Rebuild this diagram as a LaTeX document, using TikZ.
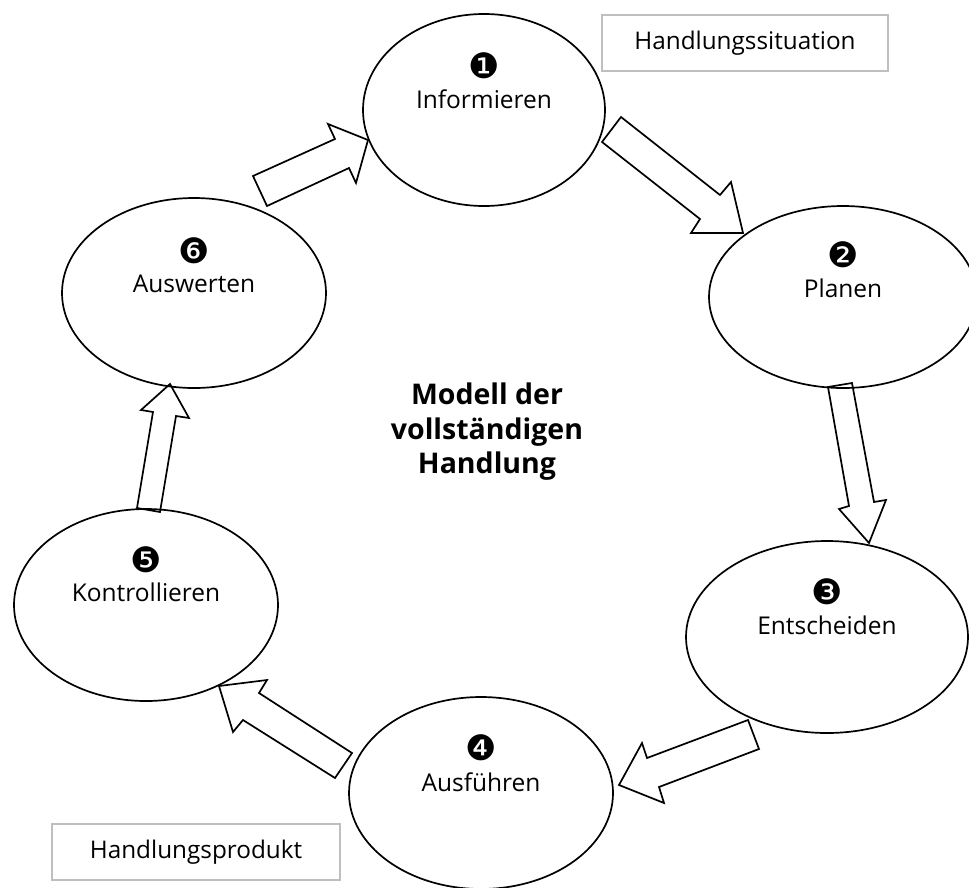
\documentclass[tikz,border=0pt]{standalone}
\usepackage{fontspec}
\setmainfont{Open Sans}
\newfontfamily\numfont{DejaVu Sans}
\usetikzlibrary{shapes.geometric}
\definecolor{boxgray}{HTML}{BFBFBF}
\tikzset{
  stage/.style={ellipse, draw=black, line width=1.7pt, inner sep=0pt, outer sep=0pt},
  blockarrow/.style={draw=black, fill=white, line width=1.7pt, line join=miter},
  numlabel/.style={font=\numfont\fontsize{35}{35}\selectfont, inner sep=0pt},
  steplabel/.style={font=\fontsize{24.5}{29}\selectfont, anchor=base, inner sep=0pt},
  infobox/.style={draw=boxgray, line width=1.3pt, inner sep=0pt, minimum height=56pt,
                  font=\fontsize{24.3}{29}\selectfont},
}
\begin{document}
\begin{tikzpicture}[x=1pt,y=-1pt]
\clip (0,0) rectangle (969,887);
\fill[white] (0,0) rectangle (969,887);

% block arrows
\draw[blockarrow] (621,117) -- (720,195) -- (731,182) -- (743,233) -- (691,233) -- (700,219) -- (602,142) -- cycle;
\draw[blockarrow] (828,387) -- (852,383) -- (874,502) -- (886,500) -- (869,543) -- (839,509) -- (849,506) -- cycle;
\draw[blockarrow] (748,720) -- (759,749) -- (659,787) -- (664,803) -- (619,785) -- (642,743) -- (647,758) -- cycle;
\draw[blockarrow] (352,753) -- (335,778) -- (243,720) -- (233,732) -- (219,686) -- (267,680) -- (259,693) -- cycle;
\draw[blockarrow] (137,508) -- (160,512) -- (176,416) -- (189,418) -- (170,384) -- (141,410) -- (153,412) -- cycle;
\draw[blockarrow] (253,176) -- (335,139) -- (328,124) -- (368,140) -- (356,183) -- (349,168) -- (267,206) -- cycle;

% stages
\node[stage, minimum width=242pt, minimum height=192pt] (inf) at (484,110) {};
\node[stage, minimum width=268pt, minimum height=182pt] (pla) at (843,297) {};
\node[stage, minimum width=282pt, minimum height=192pt] (ent) at (827,637) {};
\node[stage, minimum width=264pt, minimum height=192pt] (aus) at (481,793) {};
\node[stage, minimum width=264pt, minimum height=192pt] (kon) at (146,605) {};
\node[stage, minimum width=264pt, minimum height=190pt] (awt) at (194,293) {};

\node[numlabel] (n1) at ([yshift=44pt]inf.center) {❶};
\node[steplabel] (t1) at ([yshift=2pt]inf.center) {Informieren};
\node[numlabel] (n2) at ([yshift=42pt]pla.center) {❷};
\node[steplabel] (t2) at ([yshift=0pt]pla.center) {Planen};
\node[numlabel] (n3) at ([yshift=45pt]ent.center) {❸};
\node[steplabel] (t3) at ([yshift=3pt]ent.center) {Entscheiden};
\node[numlabel] (n4) at ([yshift=45pt]aus.center) {❹};
\node[steplabel] (t4) at ([yshift=2pt]aus.center) {Ausführen};
\node[numlabel] (n5) at ([yshift=45pt]kon.center) {❺};
\node[steplabel] (t5) at ([yshift=4pt]kon.center) {Kontrollieren};
\node[numlabel] (n6) at ([yshift=42pt]awt.center) {❻};
\node[steplabel] (t6) at ([yshift=1pt]awt.center) {Auswerten};

% title
\node[font=\bfseries\fontsize{28.5}{34.5}\selectfont, align=center, inner sep=0pt] (title) at (487,432)
  {Modell der\\vollständigen\\Handlung};

% info boxes
\node[infobox, minimum width=286pt] (sit) at (745,43) {Handlungssituation};
\node[infobox, minimum width=288pt] (prod) at (196,852) {Handlungsprodukt};
\end{tikzpicture}
\end{document}
